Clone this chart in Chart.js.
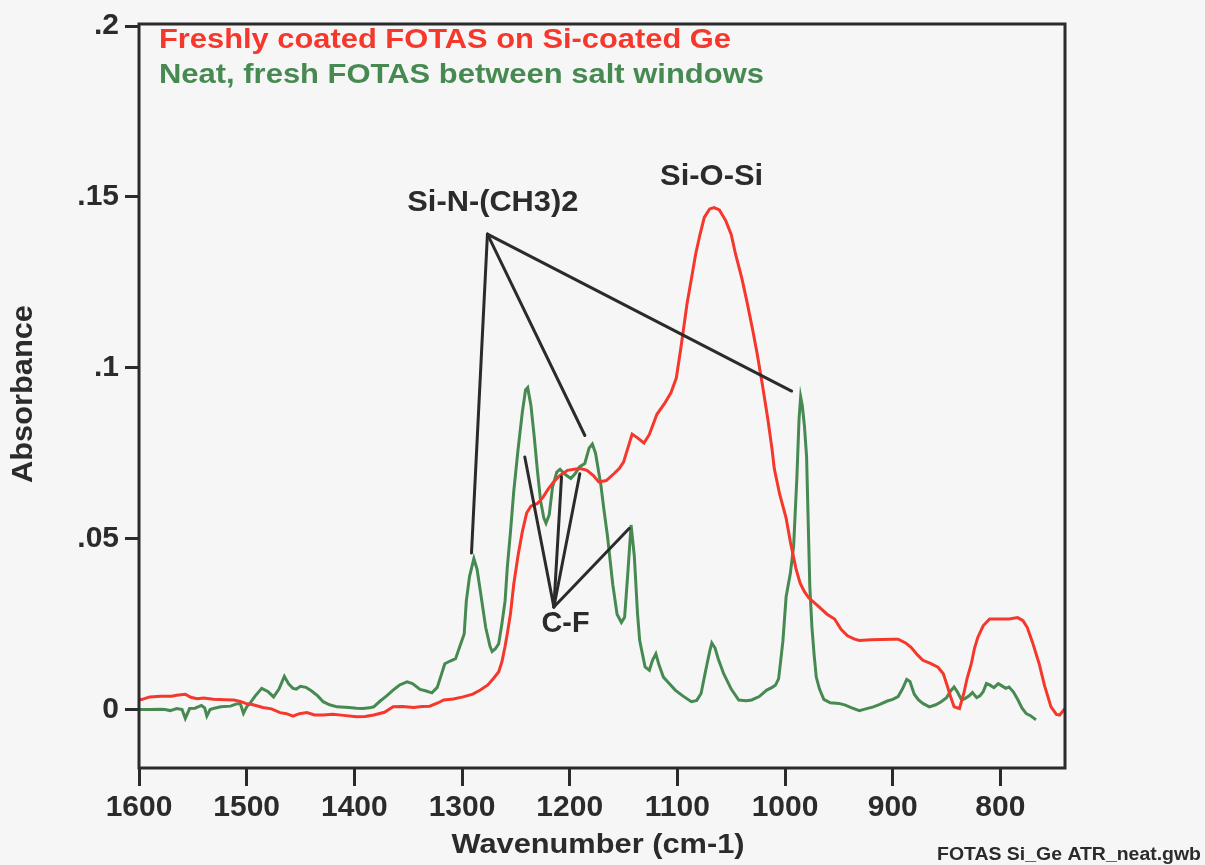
<!DOCTYPE html>
<html>
<head>
<meta charset="utf-8">
<title>FOTAS ATR spectra</title>
<script src="https://cdn.jsdelivr.net/npm/chart.js@4/dist/chart.umd.min.js"></script>
<style>
  html, body { margin: 0; padding: 0; background: #f6f6f6; }
  #wrap { width: 1205px; height: 865px; }
</style>
</head>
<body>
<div id="wrap"><canvas id="spectra" width="1205" height="865"></canvas></div>
<script>
"use strict";

// axis ticks
const xTicks = [1600, 1500, 1400, 1300, 1200, 1100, 1000, 900, 800];
const yTicks = [0, 0.05, 0.1, 0.15, 0.2];
const yTickText = ["0", ".05", ".1", ".15", ".2"];

// freshly coated FOTAS on Si-coated Ge (red)
const redWn = [1600, 1597, 1590, 1580, 1570, 1565, 1557, 1552, 1546, 1540, 1531, 1520, 1512, 1506, 1501,
  1494, 1485, 1477, 1469, 1463, 1457, 1451, 1444, 1437, 1429, 1420, 1410, 1398, 1390, 1382, 1372, 1364,
  1355, 1345, 1337, 1330, 1322, 1317, 1308, 1299, 1290, 1283, 1276, 1271, 1266, 1263, 1260, 1258, 1255,
  1252, 1248, 1244, 1240, 1236, 1230, 1225, 1220, 1215, 1209, 1202, 1196, 1190, 1184, 1178, 1173, 1166,
  1159, 1154, 1150, 1146, 1142, 1137, 1131, 1126, 1119, 1112, 1106, 1101, 1097, 1094, 1091, 1087, 1083,
  1079, 1075, 1070, 1066, 1061, 1055, 1050, 1046, 1040, 1035, 1030, 1026, 1021, 1016, 1012, 1010, 1005,
  999, 995, 990, 986, 982, 978, 970, 961, 954, 948, 942, 936, 931, 920, 910, 900, 895, 888, 883, 877,
  872, 865, 858, 853, 849, 846, 843, 838, 834, 831, 827, 824, 821, 816, 810, 800, 792, 784, 779, 775,
  770, 764, 759, 753, 748, 745, 742, 740];
const redAbs = [0.0028, 0.003, 0.0037, 0.0039, 0.0039, 0.0042, 0.0045, 0.0036, 0.0032, 0.0034, 0.003, 0.0029,
  0.0028, 0.0024, 0.0018, 0.0014, 0.0006, 0.0002, -0.0009, -0.0012, -0.0019, -0.0012, -0.0009, -0.0016,
  -0.0016, -0.0014, -0.0017, -0.0021, -0.002, -0.0016, -0.0008, 0.0008, 0.0009, 0.0006, 0.0009, 0.001,
  0.002, 0.0028, 0.0031, 0.0037, 0.0045, 0.0057, 0.0072, 0.009, 0.011, 0.0139, 0.0185, 0.0221, 0.028,
  0.0366, 0.045, 0.052, 0.0575, 0.0595, 0.0603, 0.062, 0.0645, 0.0666, 0.0685, 0.07, 0.0703, 0.0705,
  0.07, 0.0685, 0.0666, 0.067, 0.069, 0.0705, 0.0724, 0.0765, 0.0806, 0.0795, 0.078, 0.0805, 0.0864,
  0.0895, 0.0927, 0.097, 0.1053, 0.112, 0.1188, 0.126, 0.1333, 0.139, 0.144, 0.1465, 0.1469, 0.1462,
  0.143, 0.139, 0.1333, 0.126, 0.1188, 0.111, 0.1043, 0.095, 0.085, 0.076, 0.0705, 0.063, 0.056, 0.049,
  0.0414, 0.037, 0.0345, 0.0327, 0.0305, 0.0279, 0.0265, 0.0235, 0.0216, 0.0207, 0.0202, 0.0204, 0.0205,
  0.0206, 0.0206, 0.0195, 0.0182, 0.016, 0.0144, 0.0135, 0.0124, 0.0105, 0.0066, 0.0035, 0.0008, 0.0003,
  0.0047, 0.009, 0.0134, 0.018, 0.0211, 0.0245, 0.0265, 0.0265, 0.0265, 0.0269, 0.026, 0.024, 0.0195,
  0.0134, 0.007, 0.0008, -0.0014, -0.0016, -0.0005, 0.0003];

// neat FOTAS between salt windows (green)
const greenWn = [1600, 1590, 1580, 1576, 1571, 1565, 1560, 1557, 1553, 1548, 1542, 1539, 1537, 1534, 1531,
  1524, 1515, 1510, 1506, 1503, 1500, 1497, 1492, 1486, 1480, 1475, 1470, 1465, 1461, 1457, 1454, 1450,
  1445, 1440, 1434, 1429, 1423, 1416, 1405, 1398, 1392, 1386, 1382, 1376, 1370, 1364, 1358, 1351, 1346,
  1339, 1334, 1328, 1323, 1316, 1311, 1306, 1302, 1298, 1296, 1293, 1289, 1286, 1283, 1278, 1274, 1272,
  1269, 1266, 1263, 1260, 1258, 1255, 1252, 1248, 1244, 1241, 1239, 1236, 1233, 1230, 1227, 1224, 1222,
  1219, 1216, 1212, 1209, 1205, 1199, 1195, 1191, 1186, 1182, 1179, 1176, 1171, 1168, 1165, 1160, 1156,
  1152, 1149, 1146, 1143, 1140, 1137, 1135, 1130, 1126, 1123, 1120, 1117, 1113, 1108, 1102, 1095, 1087,
  1082, 1078, 1074, 1070, 1068, 1065, 1062, 1057, 1050, 1043, 1036, 1031, 1024, 1017, 1012, 1009, 1006,
  1004, 1002, 999, 995, 992, 989, 987, 985.5, 984, 982, 980, 978.5, 977, 975, 973, 971, 968, 964, 958,
  950, 944, 938, 931, 925, 918, 912, 905, 900, 895, 891, 887, 884, 880, 876, 872, 866, 860, 855, 850,
  846, 843, 840, 836, 833, 829, 826, 822, 819, 816, 813, 810, 806, 802, 799, 795, 792, 788, 784, 780,
  776, 772, 769, 767];
const greenAbs = [0, 0, 0.0001, 0, -0.0003, 0.0003, 0, -0.0026, 0.0003, 0.0004, 0.0012, 0.0005, -0.0019, 0,
  0.0003, 0.0008, 0.001, 0.0016, 0.0018, -0.0011, 0.0008, 0.0018, 0.004, 0.0062, 0.0052, 0.0037, 0.006,
  0.0097, 0.0075, 0.0062, 0.006, 0.0068, 0.0065, 0.0055, 0.004, 0.0023, 0.0014, 0.0008, 0.0006, 0.0004,
  0.0003, 0.0005, 0.0008, 0.0025, 0.004, 0.0057, 0.0072, 0.0081, 0.0076, 0.0059, 0.0055, 0.0049, 0.0065,
  0.0134, 0.0142, 0.0149, 0.0185, 0.0221, 0.0318, 0.039, 0.0442, 0.041, 0.0347, 0.024, 0.0185, 0.017,
  0.0178, 0.0192, 0.025, 0.0318, 0.0414, 0.052, 0.0637, 0.076, 0.087, 0.0935, 0.0942, 0.089, 0.08, 0.07,
  0.061, 0.056, 0.0545, 0.057, 0.065, 0.0695, 0.0703, 0.069, 0.0676, 0.069, 0.071, 0.072, 0.0765, 0.0777,
  0.075, 0.0656, 0.058, 0.051, 0.0366, 0.0279, 0.0255, 0.027, 0.04, 0.054, 0.045, 0.028, 0.0202, 0.0125,
  0.0115, 0.0145, 0.0163, 0.013, 0.0095, 0.0078, 0.0057, 0.004, 0.0023, 0.0027, 0.0047, 0.011, 0.017,
  0.0195, 0.018, 0.0148, 0.0105, 0.006, 0.0028, 0.0026, 0.0028, 0.0038, 0.0057, 0.0065, 0.0071, 0.009,
  0.0144, 0.02, 0.033, 0.04, 0.048, 0.068, 0.085, 0.0915, 0.089, 0.083, 0.074, 0.055, 0.036, 0.024, 0.016,
  0.0095, 0.006, 0.003, 0.002, 0.0018, 0.0013, 0.0005, -0.0003, 0.0002, 0.0008, 0.0015, 0.0025, 0.003,
  0.0038, 0.006, 0.0088, 0.0082, 0.0045, 0.0028, 0.0018, 0.0008, 0.0014, 0.0023, 0.0035, 0.0055, 0.0066,
  0.0052, 0.0028, 0.0032, 0.004, 0.005, 0.0035, 0.004, 0.0052, 0.0076, 0.0072, 0.0064, 0.0076, 0.007,
  0.0062, 0.0066, 0.0052, 0.003, 0.0005, -0.0012, -0.0018, -0.0025, -0.003];

// peak assignments: pointer lines as [wavenumber, absorbance] pairs
const siNApex = [1276.4, 0.1391];
const siNTargets = [[1291.2, 0.0458], [1185.9, 0.0802], [993.9, 0.0932]];
const cfApex = [1214.7, 0.030];
const cfTargets = [[1241.7, 0.0739], [1207.6, 0.0681], [1190.6, 0.069], [1144.8, 0.053]];
// label text, wavenumber, absorbance, printed width in px
const peakLabels = [
  ["Si-N-(CH3)2", 1271.4, 0.1484, 171],
  ["Si-O-Si", 1068.2, 0.156, 103],
  ["C-F", 1203.9, 0.0252, 48],
];

const RED = "#f5372c";
const GREEN = "#468a52";
const INK = "#2b2b2b";
const FONT = "'Liberation Sans', Arial, sans-serif";

const toPoints = (xs, ys) => xs.map((x, i) => ({ x: x, y: ys[i] }));

// text squeezed or stretched to a given width; x is the left edge or the centre
function fitText(ctx, text, x, y, width, centred) {
  const w = ctx.measureText(text).width;
  ctx.save();
  ctx.textAlign = "left";
  ctx.translate(centred ? x - width / 2 : x, y);
  ctx.scale(width / w, 1);
  ctx.fillText(text, 0, 0);
  ctx.restore();
}

const annotate = {
  id: "annotate",
  afterDatasetsDraw(chart) {
    const { ctx, chartArea: a, scales } = chart;
    const px = (p) => [scales.x.getPixelForValue(p[0]), scales.y.getPixelForValue(p[1])];
    ctx.save();

    // pointer lines
    ctx.strokeStyle = INK;
    ctx.lineWidth = 3;
    ctx.lineCap = "round";
    const fan = (apex, targets) => {
      const [ax, ay] = px(apex);
      targets.forEach((t) => {
        const [tx, ty] = px(t);
        ctx.beginPath();
        ctx.moveTo(ax, ay);
        ctx.lineTo(tx, ty);
        ctx.stroke();
      });
    };
    fan(siNApex, siNTargets);
    fan(cfApex, cfTargets);

    ctx.fillStyle = INK;
    ctx.font = "bold 30px " + FONT;
    ctx.textBaseline = "middle";
    peakLabels.forEach(([text, x, y, w]) => {
      const [lx, ly] = px([x, y]);
      fitText(ctx, text, lx, ly, w, true);
    });

    // frame
    ctx.lineCap = "butt";
    ctx.strokeRect(a.left, a.top, a.right - a.left, a.bottom - a.top);

    // series captions
    ctx.textBaseline = "alphabetic";
    ctx.font = "bold 28px " + FONT;
    ctx.fillStyle = RED;
    fitText(ctx, "Freshly coated FOTAS on Si-coated Ge", 159, 48, 572);
    ctx.fillStyle = GREEN;
    fitText(ctx, "Neat, fresh FOTAS between salt windows", 159, 83, 605);

    // axis titles
    ctx.fillStyle = INK;
    ctx.textBaseline = "middle";
    ctx.font = "bold 28.5px " + FONT;
    fitText(ctx, "Wavenumber (cm-1)", 598, 845, 293, true);
    ctx.save();
    ctx.translate(24, 394);
    ctx.rotate(-Math.PI / 2);
    ctx.font = "bold 30px " + FONT;
    fitText(ctx, "Absorbance", 0, 0, 178, true);
    ctx.restore();

    ctx.font = "bold 18px " + FONT;
    ctx.textBaseline = "alphabetic";
    fitText(ctx, "FOTAS Si_Ge ATR_neat.gwb", 937, 860, 264);
    ctx.restore();
  },
};

new Chart(document.getElementById("spectra"), {
  type: "line",
  data: {
    datasets: [
      {
        label: "Freshly coated FOTAS on Si-coated Ge",
        data: toPoints(redWn, redAbs),
        borderColor: RED,
        borderWidth: 3,
        pointRadius: 0,
        tension: 0,
      },
      {
        label: "Neat, fresh FOTAS between salt windows",
        data: toPoints(greenWn, greenAbs),
        borderColor: GREEN,
        borderWidth: 3,
        pointRadius: 0,
        tension: 0,
      },
    ],
  },
  options: {
    responsive: false,
    animation: false,
    layout: { padding: { top: 18, right: 140, left: 0, bottom: 0 } },
    plugins: { legend: { display: false }, tooltip: { enabled: false } },
    scales: {
      x: {
        type: "linear",
        reverse: true,
        min: 740,
        max: 1600,
        afterFit: (s) => { s.height = 97; },
        afterBuildTicks: (s) => { s.ticks = xTicks.map((v) => ({ value: v })); },
        border: { display: false },
        grid: {
          drawOnChartArea: false,
          drawTicks: true,
          tickLength: 18,
          tickWidth: 3,
          tickColor: INK,
        },
        ticks: {
          color: INK,
          font: { family: FONT, size: 30, weight: "bold" },
          padding: 4,
          maxRotation: 0,
          autoSkip: false,
          callback: (v) => String(v),
        },
      },
      y: {
        min: -0.0171,
        max: 0.2006,
        afterFit: (s) => { s.width = 139; },
        afterBuildTicks: (s) => { s.ticks = yTicks.map((v) => ({ value: v })); },
        border: { display: false },
        grid: {
          drawOnChartArea: false,
          drawTicks: true,
          tickLength: 14,
          tickWidth: 3,
          tickColor: INK,
        },
        ticks: {
          color: INK,
          font: { family: FONT, size: 30, weight: "bold" },
          padding: 6,
          callback: (v) => yTickText[yTicks.indexOf(v)],
        },
      },
    },
  },
  plugins: [annotate],
});
</script>
</body>
</html>
